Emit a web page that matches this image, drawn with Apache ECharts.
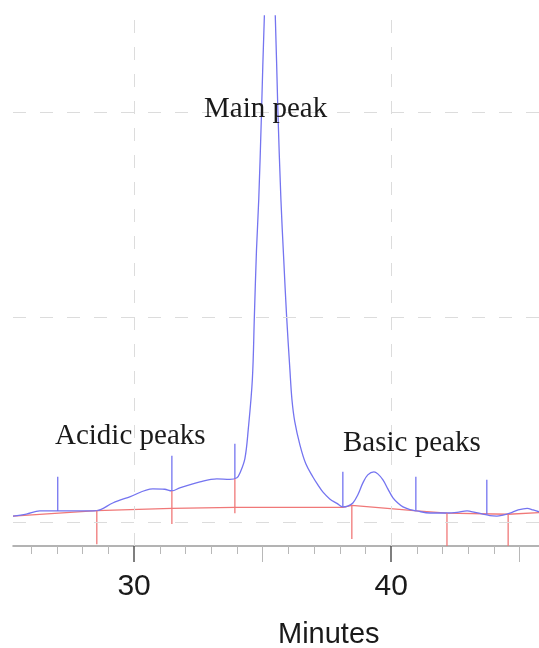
<!DOCTYPE html>
<html><head><meta charset="utf-8">
<script src="https://cdn.jsdelivr.net/npm/echarts@6/dist/echarts.min.js"></script>
<style>html,body{margin:0;padding:0;background:#fff}#c{width:539px;height:648px}</style>
</head><body><div id="c"></div><script>
// chromatogram signal [minutes, response]
const signal = [
  [25.29, 2.9], [25.81, 3.9], [26.33, 5.4], [27.03, 5.4], [27.89, 5.4], [28.55, 5.6],
  [29.17, 9.3], [29.83, 12.3], [30.73, 16.2], [31.19, 16.0], [31.47, 15.2], [31.78, 16.7],
  [32.56, 19.6], [33.22, 21.1], [33.72, 20.8], [34.00, 21.6], [34.12, 24.0], [34.31, 31.0],
  [34.44, 45.1], [34.60, 69.6], [34.68, 101.0], [34.76, 132.4], [34.85, 157.8],
  [34.95, 197.1], [35.07, 248.0], [35.16, 268.1], [35.28, 277.9], [35.40, 270.6], [35.49, 248.0],
  [35.59, 202.0], [35.71, 157.8], [35.82, 128.4], [35.93, 101.0], [36.06, 74.5], [36.14, 59.8],
  [36.25, 49.0], [36.45, 37.7], [36.68, 28.4], [36.95, 22.1], [37.15, 18.1],
  [37.34, 14.7], [37.61, 11.3], [37.89, 9.1], [38.12, 7.4], [38.31, 7.8], [38.51, 9.3],
  [38.70, 13.2], [38.90, 19.1], [39.09, 23.0], [39.33, 24.5], [39.48, 23.5], [39.68, 20.6],
  [39.87, 16.2], [40.07, 11.8], [40.26, 9.3], [40.46, 7.4], [40.73, 6.1], [41.00, 5.4],
  [41.51, 4.4], [42.17, 4.4], [42.56, 4.7], [42.95, 5.4], [43.26, 4.7], [43.57, 3.9],
  [43.84, 3.1], [44.11, 2.9], [44.35, 3.4], [44.62, 4.3], [44.94, 5.9], [45.29, 6.7],
  [45.52, 5.9], [45.75, 5.0]
];
// integration baseline
const baseline = [
  [25.29, 2.9], [28.55, 5.6], [31.47, 6.7], [33.92, 7.2], [38.12, 7.2], [38.47, 8.1],
  [41.00, 5.4], [42.17, 4.3], [44.55, 3.8], [45.75, 4.6]
];
// peak markers [minutes, top, bottom]
const blueMarks = [
  [27.03, 22.1, 5.4], [31.47, 32.4, 15.2], [33.92, 38.2, 21.1],
  [38.12, 24.5, 7.4], [40.96, 22.1, 5.9], [43.72, 20.6, 3.8]
];
const redMarks = [
  [28.55, 5.6, -10.8], [31.47, 15.2, -1.0], [33.92, 21.1, 4.3],
  [38.47, 8.3, -8.3], [42.17, 4.3, -11.8], [44.55, 3.8, -11.8]
];
const majorTicks = [30, 40];
const midTicks = [35, 45];
const minorTicks = [26, 27, 28, 29, 31, 32, 33, 34, 36, 37, 38, 39, 41, 42, 43, 44];
const gridXValues = [30, 40];
const gridYValues = [0, 100, 200];
const xName = 'Minutes';
const annotations = ['Main peak', 'Acidic peaks', 'Basic peaks'];

const X_MIN = 25.29, X_MAX = 45.75, Y_MIN = -11.7, Y_MAX = 247;
const BLUE = '#7474f0', RED = '#f07878';

const chart = echarts.init(document.getElementById('c'), null, {renderer: 'canvas'});

function baseX(extra) {
  return Object.assign({
    type: 'value', min: X_MIN, max: X_MAX, position: 'bottom',
    axisLine: {show: false, onZero: false}, splitLine: {show: false},
    axisLabel: {show: false}, axisTick: {show: false}
  }, extra);
}

function markSeries(data, color) {
  return {
    type: 'custom', data: data, z: 4, clip: true,
    encode: {x: 0, y: [1, 2]},
    renderItem: function (params, api) {
      const p1 = api.coord([api.value(0), api.value(1)]);
      const p2 = api.coord([api.value(0), api.value(2)]);
      return {type: 'line', shape: {x1: p1[0], y1: p1[1], x2: p2[0], y2: p2[1]},
        style: {stroke: color, lineWidth: 1.3}};
    }
  };
}

const option = {
  animation: false,
  backgroundColor: '#ffffff',
  grid: {left: 13, right: 0, top: 16, bottom: 102, containLabel: false},
  xAxis: [
    baseX({axisLine: {show: true, onZero: false, lineStyle: {color: '#9a9a9a', width: 1.5}},
      axisTick: {show: true, customValues: minorTicks, length: 8, lineStyle: {color: '#b8b8b8', width: 1}}}),
    baseX({axisTick: {show: true, customValues: midTicks, length: 16, lineStyle: {color: '#b8b8b8', width: 1}}}),
    baseX({axisTick: {show: true, customValues: majorTicks, length: 16, lineStyle: {color: '#555', width: 1.5}},
      axisLabel: {show: true, customValues: majorTicks, fontSize: 30, color: '#1a1a1a',
        fontFamily: 'Liberation Sans, Arial, sans-serif', margin: 26}})
  ],
  yAxis: {type: 'value', min: Y_MIN, max: Y_MAX, show: false},
  graphic: [
    {type: 'text', left: 204, top: 95, z: 20, style: {text: annotations[0], font: '29px "Liberation Serif", serif', fill: '#1a1a1a'}},
    {type: 'text', left: 55, top: 422, z: 20, style: {text: annotations[1], font: '29px "Liberation Serif", serif', fill: '#1a1a1a'}},
    {type: 'text', left: 343, top: 429, z: 20, style: {text: annotations[2], font: '29px "Liberation Serif", serif', fill: '#1a1a1a'}},
    {type: 'text', left: 278, top: 620, z: 20, style: {text: xName, font: '29px "Liberation Sans", Arial, sans-serif', fill: '#1a1a1a'}}
  ],
  series: [
    {
      type: 'line', data: baseline, z: 2, symbol: 'none', silent: true,
      lineStyle: {color: RED, width: 1.3},
      markLine: {
        silent: true, symbol: 'none', label: {show: false}, animation: false,
        lineStyle: {color: '#dcdcdc', type: [13, 14], width: 1},
        data: gridXValues.map(v => ({xAxis: v})).concat(gridYValues.map(v => ({yAxis: v})))
      }
    },
    {
      type: 'line', data: signal, z: 3, symbol: 'none', smooth: 0.35, silent: true, clip: true,
      lineStyle: {color: BLUE, width: 1.3}
    },
    markSeries(blueMarks, BLUE),
    markSeries(redMarks, RED)
  ]
};
chart.setOption(option);
</script></body></html>
